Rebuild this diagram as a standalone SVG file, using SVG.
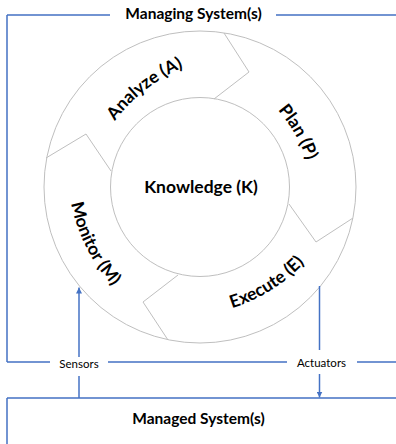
<svg xmlns="http://www.w3.org/2000/svg" width="396" height="444" viewBox="0 0 396 444">
<style>
.frame{fill:none;stroke:#4472C4;stroke-width:1.5}
.ring{fill:#fff;stroke:#BFBFBF;stroke-width:1}
.cut{fill:none;stroke:#BFBFBF;stroke-width:1;stroke-linejoin:miter}
.t{font-family:Lato,"Liberation Sans",sans-serif;fill:#000}
.title{font-size:15.5px;font-weight:700}
.lbl{font-size:17.5px;font-weight:700}
.io{font-size:11.5px}
</style>
<defs>
<marker id="ah" viewBox="0 0 10 10" refX="10" refY="5" markerWidth="4" markerHeight="4" orient="auto"><path d="M0,0 L10,5 L0,10 z" fill="#4472C4"/></marker>
<path id="pA" d="M83.99,188.43 A170,170 0 0 1 256.20,53.86"/>
<path id="pP" d="M205.72,59.25 A170,170 0 0 1 315.00,248.53"/>
<path id="pE" d="M157.46,314.27 A170,170 0 0 0 342.79,198.47"/>
<path id="pM" d="M72.24,132.29 A170,170 0 0 0 171.45,327.01"/>
</defs>
<rect width="396" height="444" fill="#fff"/>
<g id="managing-system">
<path class="frame" d="M7,15 H110 M276,15 H396 M7,15 V362 M7,362 H50 M108,362 H287 M357,362 H396"/>
<text class="t title" x="193.5" y="19" text-anchor="middle">Managing System(s)</text>
</g>
<g id="ring">
<circle class="ring" cx="200" cy="187" r="156"/>
<circle class="ring" cx="200" cy="187" r="89.5"/>
</g>
<g id="analyze">
<polyline class="cut" points="224,33 249,72 214,99"/>
<text class="t lbl"><textPath href="#pA" startOffset="50%" text-anchor="middle">Analyze (A)</textPath></text>
</g>
<g id="plan">
<polyline class="cut" points="353,218 316,242 289,204"/>
<text class="t lbl"><textPath href="#pP" startOffset="50%" text-anchor="middle">Plan (P)</textPath></text>
</g>
<g id="execute">
<polyline class="cut" points="168,340 143,302 178,275"/>
<text class="t lbl"><textPath href="#pE" startOffset="50%" text-anchor="middle">Execute (E)</textPath></text>
</g>
<g id="monitor">
<polyline class="cut" points="46,158 86,134 111,171"/>
<text class="t lbl"><textPath href="#pM" startOffset="50%" text-anchor="middle">Monitor (M)</textPath></text>
</g>
<g id="knowledge">
<text class="t lbl" x="201" y="193.3" text-anchor="middle">Knowledge (K)</text>
</g>
<g id="managed-system">
<path class="frame" d="M7,398 H396 M7,398 V444"/>
<text class="t title" x="198.5" y="424" text-anchor="middle">Managed System(s)</text>
</g>
<g id="connectors">
<path class="frame" d="M79,398 V376"/>
<path class="frame" d="M79,357 V287.5" marker-end="url(#ah)"/>
<path class="frame" d="M319.5,286 V350"/>
<path class="frame" d="M319.5,374 V397.5" marker-end="url(#ah)"/>
<text class="t io" x="79" y="368.3" text-anchor="middle">Sensors</text>
<text class="t io" x="321.5" y="366.5" text-anchor="middle">Actuators</text>
</g>
</svg>
